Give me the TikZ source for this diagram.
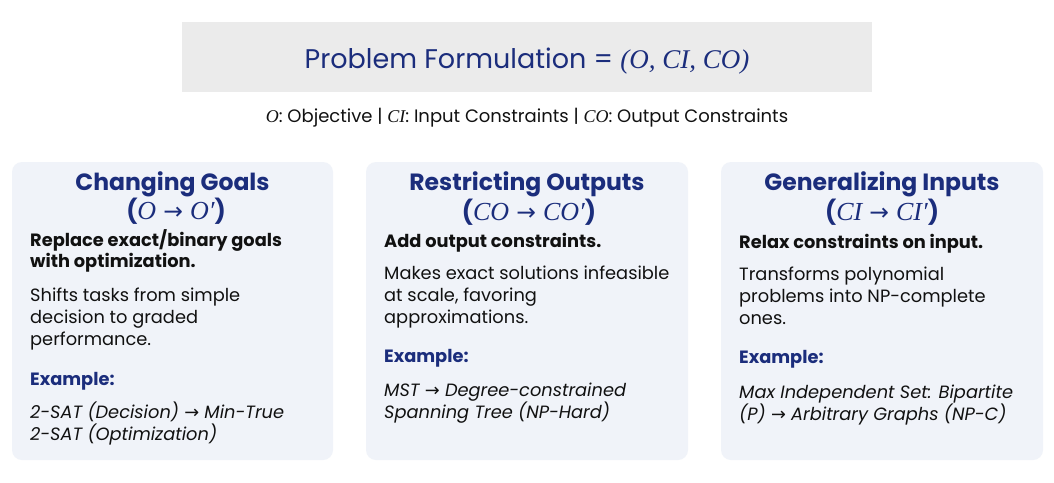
\documentclass[tikz,border=0pt]{standalone}
\usepackage{fontspec}
\setmainfont{Poppins}
\newfontfamily\mathf{Liberation Serif}
\newfontfamily\arrf{DejaVu Sans}
\newcommand\mv[1]{{\mathf\itshape #1}}
\newcommand\mvb[1]{{\mathf\itshape\fontsize{26}{28}\selectfont #1}}
\newcommand\ar{{\arrf\char"2192}}
\definecolor{navy}{HTML}{1B2D7C}
\definecolor{cardfill}{HTML}{F0F3F9}
\definecolor{headfill}{HTML}{EBEBEB}
\definecolor{ink}{HTML}{111111}
\tikzset{
  card/.style={fill=cardfill, rounded corners=10pt, draw=none},
  ttl/.style={anchor=base, font=\fontsize{23.5}{26}\selectfont\bfseries, text=navy, inner sep=0pt},
  lead/.style={anchor=base west, align=left, font=\fontsize{17.8}{21.5}\selectfont\bfseries, text=ink, inner sep=0pt},
  body/.style={anchor=base west, align=left, font=\fontsize{17.8}{21.8}\selectfont, text=ink, inner sep=0pt},
  exm/.style={anchor=base west, font=\fontsize{17.8}{21.7}\selectfont\bfseries, text=navy, inner sep=0pt},
  itl/.style={anchor=base west, align=left, font=\fontsize{17.8}{21.7}\selectfont\itshape, text=ink, inner sep=0pt},
}
\begin{document}
\begin{tikzpicture}[x=1pt,y=-1pt]
\useasboundingbox (0,0) rectangle (1054,482);
\fill[white] (0,0) rectangle (1054,482);
% header
\node[fill=headfill, minimum width=690pt, minimum height=70pt, anchor=north west, inner sep=0pt] (head) at (182,22) {};
\node[anchor=base, inner sep=0pt, text=navy, font=\fontsize{27}{30}\selectfont] (htitle) at (527,68) {Problem Formulation = \mv{(O, CI, CO)}};
\node[anchor=base, inner sep=0pt, text=ink, font=\fontsize{18}{21}\selectfont] (legend) at (527,122) {\mv{O}: Objective | \mv{CI}: Input Constraints | \mv{CO}: Output Constraints};
% cards
\fill[card] (12,162) rectangle (333,460);
\node[inner sep=0pt] (c1) at (172.5,311) {};
\fill[card] (366,162) rectangle (688,460);
\node[inner sep=0pt] (c2) at (527,311) {};
\fill[card] (721,162) rectangle (1043,460);
\node[inner sep=0pt] (c3) at (882,311) {};
% card 1
\node[ttl] (t1) at (172.5,190) {Changing Goals};
\node[ttl] (s1) at (176,219) {(\mdseries\mvb{O}\hspace{0.3em}\ar\hspace{0.3em}\mvb{O′}\bfseries)};
\node[lead] (l1) at (30,267.7) {Replace exact/binary goals\\with optimization.};
\node[body] (b1) at (30,345) {Shifts tasks from simple\\decision to graded\\performance.};
\node[exm] (e1) at (30,385) {Example:};
\node[itl] (x1) at (30,440) {2-SAT (Decision) \ar{} Min-True\\2-SAT (Optimization)};
% card 2
\node[ttl] (t2) at (527,190) {Restricting Outputs};
\node[ttl] (s2) at (529,220) {(\mdseries\mvb{CO}\hspace{0.3em}\ar\hspace{0.3em}\mvb{CO′}\bfseries)};
\node[lead] (l2) at (384,247.7) {Add output constraints.};
\node[body] (b2) at (384,323.3) {Makes exact solutions infeasible\\at scale, favoring\\approximations.};
\node[exm] (e2) at (384,362.3) {Example:};
\node[itl] (x2) at (384,418.3) {MST \ar{} Degree-constrained\\Spanning Tree (NP-Hard)};
% card 3
\node[ttl] (t3) at (882,190) {Generalizing Inputs};
\node[ttl] (s3) at (882,220) {(\mdseries\mvb{CI}\hspace{0.3em}\ar\hspace{0.3em}\mvb{CI′}\bfseries)};
\node[lead] (l3) at (739,248.3) {Relax constraints on input.};
\node[body] (b3) at (739,324.3) {Transforms polynomial\\problems into NP-complete\\ones.};
\node[exm] (e3) at (739,363.3) {Example:};
\node[itl] (x3) at (739,420) {Max Independent Set: Bipartite\\(P) \ar{} Arbitrary Graphs (NP-C)};
\end{tikzpicture}
\end{document}
